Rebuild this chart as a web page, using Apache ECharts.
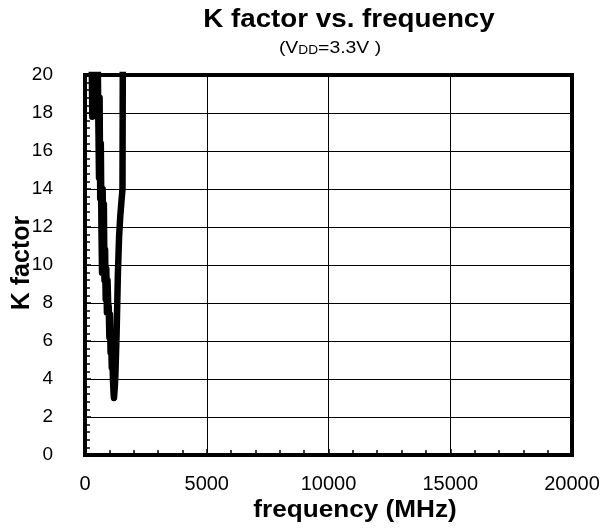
<!DOCTYPE html>
<html>
<head>
<meta charset="utf-8">
<script src="https://cdn.jsdelivr.net/npm/echarts@6/dist/echarts.min.js"></script>
<style>html,body{margin:0;padding:0;background:#fff}#c{width:607px;height:529px}</style>
</head>
<body>
<div id="c"></div>
<script>
// frequency (MHz)
var freq = [250,300,325,350,375,400,425,450,475,500,525,550,575,600,625,650,675,700,725,750,775,800,825,850,875,900,925,950,975,1000,1025,1050,1075,1100,1125,1150,1175,1190,1225,1250,1300,1350,1400,1450,1500,1540,1555,1575];
// K factor
var kFactor = [24,17.8,19.5,18.6,20.5,19.0,20.4,18.7,20.2,19.0,20.5,17.4,14.6,18.8,13.5,16.4,12.0,9.6,14.0,11.0,13.2,9.2,10.8,8.2,9.8,7.5,9.2,8.0,7.8,6.2,7.4,5.4,5.9,4.6,5.3,3.9,3.2,3.0,3.6,4.3,6.5,9.5,11.5,12.6,13.4,14.0,22,28];
var xTicks = [0,5000,10000,15000,20000];
var yTicks = [0,2,4,6,8,10,12,14,16,18,20];
var titleText = 'K factor vs. frequency';
var subtitleText = '(V{s|DD}=3.3V )';
var xName = 'frequency (MHz)';
var yName = 'K factor';

var data = freq.map(function(f,i){return [f,kFactor[i]];});
var chart = echarts.init(document.getElementById('c'));
var FONT = '"Liberation Sans", Arial, sans-serif';
chart.setOption({
  animation:false,
  backgroundColor:'#fff',
  graphic:[
    {type:'text', x:349, y:20, scaleX:1.11, style:{text:titleText, fill:'#000', font:'bold 25px "Liberation Sans", Arial, sans-serif', textAlign:'center', textVerticalAlign:'middle'}},
    {type:'text', x:330, y:48, scaleX:1.14, style:{text:subtitleText, fill:'#000', fontFamily:FONT, fontSize:17, align:'center', verticalAlign:'middle',
      rich:{s:{fontFamily:FONT,fontSize:12,fill:'#000',verticalAlign:'bottom',padding:[4,0,0,0]}}}},
    {type:'text', x:355, y:510, scaleX:1.09, style:{text:xName, fill:'#000', font:'bold 24px "Liberation Sans", Arial, sans-serif', textAlign:'center', textVerticalAlign:'middle'}},
    {type:'text', x:22, y:263, rotation:Math.PI/2, style:{text:yName, fill:'#000', font:'bold 25px "Liberation Sans", Arial, sans-serif', textAlign:'center', textVerticalAlign:'middle'}}
  ],
  grid:{left:85,right:35,top:75,bottom:74,show:true,borderColor:'#000',borderWidth:4,backgroundColor:'#fff',outerBoundsMode:'none',containLabel:false},
  xAxis:{type:'value',min:xTicks[0],max:xTicks[xTicks.length-1],interval:5000,
    axisLine:{show:false},
    axisTick:{show:true,inside:true,length:6,lineStyle:{color:'#000',width:1.5}},
    minorTick:{show:true,splitNumber:5,length:5,lineStyle:{color:'#000',width:1.5}},
    axisLabel:{fontFamily:FONT,fontSize:20,color:'#000',margin:19,formatter:function(v){return String(v);}},
    splitLine:{show:true,lineStyle:{color:'#000',width:1}}},
  yAxis:{type:'value',min:yTicks[0],max:yTicks[yTicks.length-1],interval:2,
    axisLine:{show:false},
    axisTick:{show:true,inside:true,length:6,lineStyle:{color:'#000',width:1.5}},
    minorTick:{show:true,splitNumber:5,length:5,lineStyle:{color:'#000',width:1.5}},
    axisLabel:{fontFamily:FONT,fontSize:19,color:'#000',margin:32,formatter:function(v){return String(v);}},
    splitLine:{show:true,lineStyle:{color:'#000',width:1}}},
  series:[{type:'line',data:data,showSymbol:false,clip:true,
    lineStyle:{color:'#000',width:6.5,join:'round',cap:'round'}}]
});
</script>
</body>
</html>
